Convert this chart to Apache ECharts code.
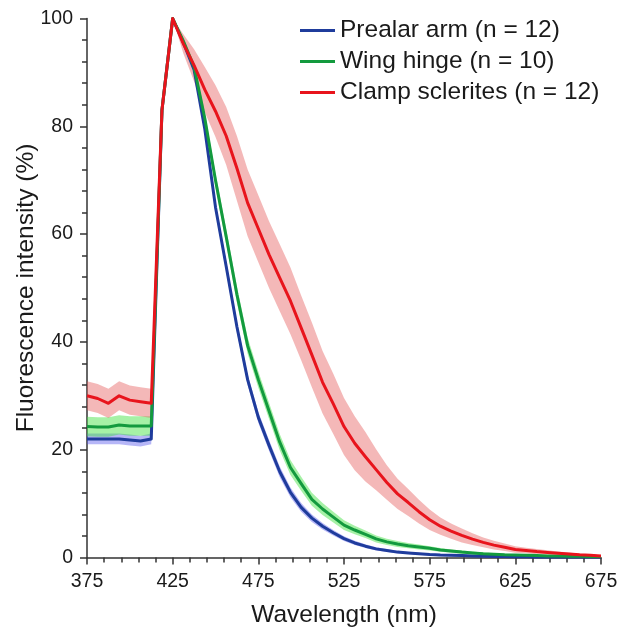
<!DOCTYPE html>
<html>
<head>
<meta charset="utf-8">
<script src="https://cdn.jsdelivr.net/npm/echarts@6/dist/echarts.min.js"></script>
<style>
html,body{margin:0;padding:0;background:#fff;}
#chart{width:626px;height:630px;}
</style>
</head>
<body>
<div id="chart"></div>
<script>
const wavelength = [375, 381.25, 387.5, 393.75, 400, 406.25, 412.5, 418.75, 425, 431.25, 437.5, 443.75, 450, 456.25, 462.5, 468.75, 475, 481.25, 487.5, 493.75, 500, 506.25, 512.5, 518.75, 525, 531.25, 537.5, 543.75, 550, 556.25, 562.5, 568.75, 575, 581.25, 587.5, 593.75, 600, 606.25, 612.5, 618.75, 625, 631.25, 637.5, 643.75, 650, 656.25, 662.5, 668.75, 675];

const seriesNames = ['Prealar arm (n = 12)', 'Wing hinge (n = 10)', 'Clamp sclerites (n = 12)'];

const prealarMean = [22.0, 22.0, 22.0, 22.0, 21.8, 21.6, 22.0, 83, 100,
  95.5, 90.5, 79.5, 65, 54, 42.8, 33, 26, 20.8, 15.9,
  12.1, 9.3, 7.3, 5.8, 4.6, 3.5, 2.7, 2.1, 1.6, 1.3,
  1.0, 0.85, 0.7, 0.55, 0.45, 0.4, 0.35, 0.3, 0.25, 0.2,
  0.2, 0.15, 0.15, 0.1, 0.1, 0.1, 0.1, 0.1, 0.1, 0.1];
const prealarSd = [1.0, 1.0, 1.0, 1.0, 1.0, 1.0, 1.0, 0.5, 0,
  0.4, 0.6, 0.8, 0.9, 1.0, 1.0, 1.0, 1.0, 1.0, 1.0,
  0.9, 0.8, 0.7, 0.6, 0.5, 0.45, 0.4, 0.35, 0.3, 0.3,
  0.25, 0.2, 0.2, 0.2, 0.2, 0.2, 0.2, 0.2, 0.2, 0.2,
  0.15, 0.15, 0.15, 0.15, 0.15, 0.1, 0.1, 0.1, 0.1, 0.1];

const wingMean = [24.3, 24.2, 24.2, 24.6, 24.4, 24.4, 24.4, 83, 100,
  95.8, 91, 81.5, 70, 59.5, 48.8, 39.3, 33.0, 27.2, 21.4,
  16.7, 13.7, 10.8, 9.0, 7.5, 6.0, 5.1, 4.3, 3.45, 2.9,
  2.5, 2.2, 1.95, 1.7, 1.4, 1.2, 1.0, 0.85, 0.7, 0.6,
  0.5, 0.45, 0.4, 0.35, 0.3, 0.3, 0.25, 0.25, 0.2, 0.2];
const wingSd = [1.8, 1.8, 1.8, 1.8, 1.8, 1.8, 1.8, 1.0, 0,
  0.6, 0.9, 1.1, 1.3, 1.4, 1.5, 1.5, 1.5, 1.5, 1.5,
  1.4, 1.3, 1.2, 1.1, 1.0, 0.9, 0.8, 0.7, 0.65, 0.6,
  0.55, 0.5, 0.45, 0.4, 0.35, 0.3, 0.3, 0.25, 0.25, 0.2,
  0.2, 0.2, 0.15, 0.15, 0.15, 0.1, 0.1, 0.1, 0.1, 0.1];

const clampMean = [30.0, 29.5, 28.6, 30.0, 29.2, 28.9, 28.6, 83, 100,
  95.3, 91.3, 86.8, 82.8, 78.2, 72.2, 65.8, 61, 56.2, 51.9,
  47.6, 42.6, 37.6, 32.5, 28.5, 24.3, 21.2, 18.7, 16.3, 13.9,
  11.8, 10.2, 8.5, 7.0, 5.8, 4.9, 4.1, 3.4, 2.8, 2.3,
  1.9, 1.5, 1.3, 1.1, 0.95, 0.8, 0.65, 0.5, 0.4, 0.3];
const clampSd = [2.7, 2.7, 2.7, 2.7, 2.7, 2.7, 2.7, 1.5, 0,
  1.8, 3.0, 4.2, 4.8, 5.4, 6.0, 6.2, 6.2, 6.2, 6.2,
  6.2, 6.0, 6.0, 5.8, 5.6, 5.3, 5.0, 4.6, 3.8, 3.2,
  2.8, 2.5, 2.2, 1.9, 1.6, 1.4, 1.3, 1.1, 0.9, 0.8,
  0.7, 0.6, 0.5, 0.5, 0.4, 0.3, 0.3, 0.2, 0.2, 0.1];

const xTicks = {min: 375, max: 675, interval: 50};
const yTicks = {min: 0, max: 100, interval: 20};

const groups = [
  {name: seriesNames[0], mean: prealarMean, sd: prealarSd, line: '#1f3c9c', band: 'rgba(80,80,235,0.42)'},
  {name: seriesNames[1], mean: wingMean, sd: wingSd, line: '#139a3e', band: 'rgba(70,225,70,0.48)'},
  {name: seriesNames[2], mean: clampMean, sd: clampSd, line: '#e8141c', band: 'rgba(228,85,85,0.42)'}
];

const series = [];
groups.forEach((g, k) => {
  // one data row per wavelength: [wavelength, lower, upper]
  const rows = wavelength.map((w, i) => [w, g.mean[i] - g.sd[i], g.mean[i] + g.sd[i]]);
  series.push({
    type: 'custom', name: 'band-' + k, silent: true, z: 1,
    data: rows,
    encode: {x: 0, y: [1, 2]},
    renderItem: function (params, api) {
      if (params.dataIndex !== 0) return null;
      const upper = rows.map(r => api.coord([r[0], r[2]]));
      const lower = rows.map(r => api.coord([r[0], r[1]])).reverse();
      return {
        type: 'polygon',
        shape: {points: upper.concat(lower)},
        style: {fill: g.band, stroke: null}
      };
    }
  });
});
groups.forEach((g) => {
  series.push({
    type: 'line', name: g.name, symbol: 'none', z: 3,
    color: g.line,
    lineStyle: {color: g.line, width: 3, join: 'round'},
    data: wavelength.map((w, i) => [w, g.mean[i]])
  });
});

const font = '"Liberation Sans", Arial, Helvetica, sans-serif';
const axisColor = '#333';

const chart = echarts.init(document.getElementById('chart'), null, {renderer: 'canvas'});
chart.setOption({
  animation: false,
  backgroundColor: '#fff',
  grid: {left: 87, right: 25, top: 18.5, bottom: 72.5, containLabel: false, outerBoundsMode: 'none'},
  legend: {
    data: seriesNames,
    orient: 'vertical',
    left: 295, top: 13,
    icon: 'rect', itemWidth: 35, itemHeight: 3, itemGap: 6,
    textStyle: {fontFamily: font, fontSize: 24.5, color: '#1a1a1a', lineHeight: 25},
    selectedMode: false
  },
  xAxis: {
    type: 'value', min: xTicks.min, max: xTicks.max, interval: xTicks.interval,
    name: 'Wavelength (nm)', nameLocation: 'middle', nameGap: 45, nameMoveOverlap: false,
    nameTextStyle: {fontFamily: font, fontSize: 24.5, color: '#1a1a1a'},
    axisLine: {show: true, lineStyle: {color: axisColor, width: 1.5}},
    axisTick: {show: true, inside: false, length: 7, lineStyle: {color: axisColor, width: 1.5}},
    minorTick: {show: true, splitNumber: 5, length: 5, lineStyle: {color: axisColor, width: 1.5}},
    axisLabel: {fontFamily: font, fontSize: 19.5, color: '#1a1a1a', margin: 14},
    splitLine: {show: false}
  },
  yAxis: {
    type: 'value', min: yTicks.min, max: yTicks.max, interval: yTicks.interval,
    name: 'Fluorescence intensity (%)', nameLocation: 'middle', nameGap: 48, nameMoveOverlap: false,
    nameTextStyle: {fontFamily: font, fontSize: 24.5, color: '#1a1a1a'},
    axisLine: {show: true, lineStyle: {color: axisColor, width: 1.5}},
    axisTick: {show: true, inside: false, length: 7, lineStyle: {color: axisColor, width: 1.5}},
    minorTick: {show: true, splitNumber: 5, length: 5, lineStyle: {color: axisColor, width: 1.5}},
    axisLabel: {fontFamily: font, fontSize: 19.5, color: '#1a1a1a', margin: 14},
    splitLine: {show: false}
  },
  series: series
});
</script>
</body>
</html>
